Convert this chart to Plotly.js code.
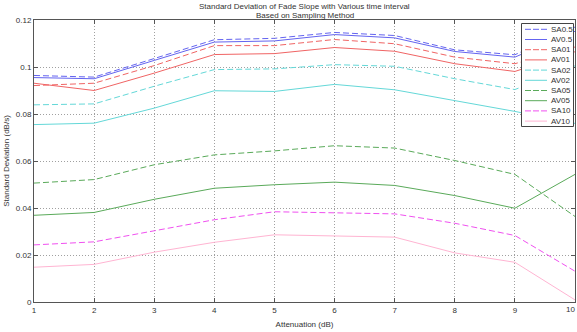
<!DOCTYPE html>
<html>
<head>
<meta charset="utf-8">
<script src="https://cdn.plot.ly/plotly-3.0.1.min.js"></script>
<style>
html,body{margin:0;padding:0;background:#fff;}
#chart{width:577px;height:332px;}
</style>
</head>
<body>
<div id="chart"></div>
<script>
var attenuation = [1, 2, 3, 4, 5, 6, 7, 8, 9, 10];
var seriesNames = ["SA0.5", "AV0.5", "SA01", "AV01", "SA02", "AV02", "SA05", "AV05", "SA10", "AV10"];
var SA0_5 = [0.0964, 0.0957, 0.1036, 0.1116, 0.1122, 0.1147, 0.1134, 0.1073, 0.1052, 0.1170];
var AV0_5 = [0.0955, 0.0950, 0.1028, 0.1106, 0.1111, 0.1138, 0.1124, 0.1066, 0.1042, 0.1152];
var SA01 = [0.0921, 0.0931, 0.1006, 0.1091, 0.1091, 0.1117, 0.1099, 0.1042, 0.1014, 0.1085];
var AV01 = [0.0931, 0.0900, 0.0974, 0.1053, 0.1057, 0.1083, 0.1067, 0.1014, 0.0981, 0.1065];
var SA02 = [0.0839, 0.0843, 0.0918, 0.0989, 0.0992, 0.1010, 0.1003, 0.0950, 0.0904, 0.1005];
var AV02 = [0.0755, 0.0761, 0.0825, 0.0899, 0.0896, 0.0926, 0.0903, 0.0857, 0.0811, 0.0760];
var SA05 = [0.0506, 0.0521, 0.0584, 0.0626, 0.0643, 0.0665, 0.0655, 0.0602, 0.0543, 0.0364];
var AV05 = [0.0369, 0.0381, 0.0437, 0.0484, 0.0499, 0.0510, 0.0496, 0.0453, 0.0399, 0.0543];
var SA10 = [0.0243, 0.0256, 0.0303, 0.0350, 0.0384, 0.0381, 0.0375, 0.0335, 0.0283, 0.0131];
var AV10 = [0.0148, 0.0160, 0.0212, 0.0254, 0.0286, 0.0280, 0.0276, 0.0209, 0.0169, 0.0009];
var titleLines = ["Standard Deviation of Fade Slope with Various time interval", "Based on Sampling Method"];

var seriesValues = [SA0_5, AV0_5, SA01, AV01, SA02, AV02, SA05, AV05, SA10, AV10];
var colors = ["#6464f0", "#6464f0", "#f06464", "#f06464", "#64d8d8", "#64d8d8", "#5aaa5a", "#5aaa5a", "#f050f0", "#ffb4d2"];
var dashes = ["6px,3px", "solid", "6px,3px", "solid", "6px,3px", "solid", "6px,3px", "solid", "6px,3px", "solid"];

var W = 577, H = 332;
var M = {l: 34, r: 2, t: 20, b: 30};
function px(x) { return (x - M.l) / (W - M.l - M.r); }
function py(y) { return (H - M.b - y) / (H - M.t - M.b); }
var FONT = "Liberation Sans, Arial, sans-serif";

var traces = seriesValues.map(function (vals, i) {
  return {
    x: attenuation, y: vals, name: seriesNames[i], type: "scatter", mode: "lines",
    line: {color: colors[i], width: 1, dash: dashes[i]},
    hoverinfo: "skip", showlegend: false
  };
});

// custom compact legend (MATLAB style)
var shapes = [{
  type: "rect", xref: "paper", yref: "paper",
  x0: px(521.5), x1: px(573.5), y0: py(126.5), y1: py(23.5),
  fillcolor: "#ffffff", line: {color: "#444", width: 1}
}];
var annotations = [];
var rowY0 = 29.3, rowStep = 10.2;
seriesNames.forEach(function (nm, i) {
  var yy = rowY0 + i * rowStep;
  shapes.push({
    type: "line", xref: "paper", yref: "paper",
    x0: px(525), x1: px(547), y0: py(yy), y1: py(yy),
    line: {color: colors[i], width: 1, dash: dashes[i] === "solid" ? "solid" : "6px,2px"}
  });
  annotations.push({
    xref: "paper", yref: "paper", x: px(548.5), y: py(yy),
    xanchor: "left", yanchor: "middle", showarrow: false,
    text: nm, font: {family: FONT, size: 8, color: "#333"}
  });
});
// title lines
titleLines.forEach(function (t, i) {
  annotations.push({
    xref: "paper", yref: "paper", x: 0.5, y: py(6 + i * 10),
    xanchor: "center", yanchor: "middle", showarrow: false,
    text: t, font: {family: FONT, size: 8, color: "#333"}
  });
});
// last x tick label (sits at the right edge)
annotations.push({
  xref: "paper", yref: "paper", x: px(577), y: py(309),
  xanchor: "right", yanchor: "middle", showarrow: false,
  text: String(attenuation[attenuation.length - 1]), font: {family: FONT, size: 8, color: "#333"}
});

var axisCommon = {
  showline: true, linecolor: "#555", linewidth: 1, mirror: "ticks",
  ticks: "inside", ticklen: 4, tickcolor: "#555", tickwidth: 1,
  showgrid: true, gridcolor: "#a0a0a0", griddash: "1px,2px", gridwidth: 1,
  zeroline: false,
  tickfont: {family: FONT, size: 8, color: "#333"}
};

var layout = {
  width: W, height: H,
  margin: M,
  paper_bgcolor: "#fff", plot_bgcolor: "#fff",
  showlegend: false,
  xaxis: Object.assign({}, axisCommon, {
    range: [1, 10], dtick: 1, tick0: 1,
    title: {text: "Attenuation (dB)", standoff: 7,
      font: {family: FONT, size: 8, color: "#333"}}
  }),
  yaxis: Object.assign({}, axisCommon, {
    range: [0, 0.12], dtick: 0.02, tick0: 0,
    title: {text: "Standard Deviation (dB/s)", standoff: 5,
      font: {family: FONT, size: 8, color: "#333"}}
  }),
  shapes: shapes,
  annotations: annotations
};

Plotly.newPlot("chart", traces, layout, {displayModeBar: false, staticPlot: true});
</script>
</body>
</html>
